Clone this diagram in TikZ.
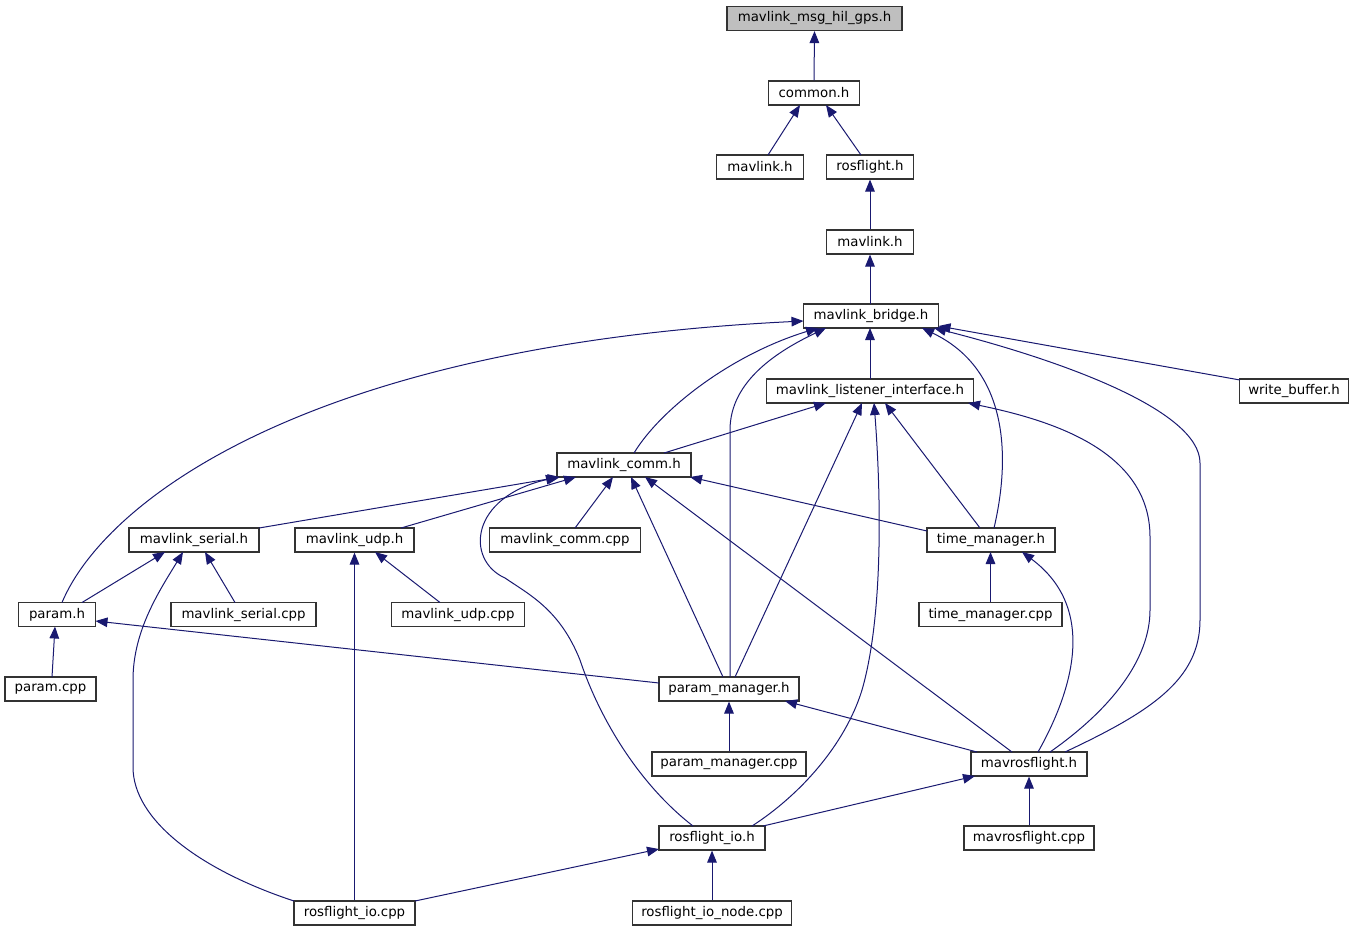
\documentclass[tikz,border=0pt]{standalone}
\usepackage{fontspec}
\setmainfont{DejaVu Sans}
\usetikzlibrary{arrows.meta}
\definecolor{edgeblue}{HTML}{191970}
\definecolor{boxline}{HTML}{333333}
\definecolor{rootfill}{HTML}{BFBFBF}
\tikzset{
  box/.style={draw=boxline, line width=0.9pt, fill=white, minimum height=18pt, inner sep=0pt,
    font=\fontsize{10pt}{12pt}\selectfont},
  bw/.style={minimum width=#1*0.75pt},
  edge/.style={draw=edgeblue, line width=0.75pt, -{Triangle[length=9pt,width=7.2pt]}}
}
\begin{document}
\begin{tikzpicture}[x=0.75pt,y=-0.75pt]
\useasboundingbox (0,0) rectangle (1355,933);
% nodes
\node[box,bw=175,fill=rootfill] (hil) at (814.5,18.5) {mavlink\_msg\_hil\_gps.h};
\node[box,bw=91] (common) at (814,93) {common.h};
\node[box,bw=87] (mavA) at (760,167) {mavlink.h};
\node[box,bw=87] (rosfl) at (870,167) {rosflight.h};
\node[box,bw=87] (mavB) at (870,242) {mavlink.h};
\node[box,bw=135] (bridge) at (871,316) {mavlink\_bridge.h};
\node[box,bw=207] (listener) at (870,391) {mavlink\_listener\_interface.h};
\node[box,bw=109] (wbuf) at (1294,391) {write\_buffer.h};
\node[box,bw=134] (comm) at (624,465) {mavlink\_comm.h};
\node[box,bw=130] (serial) at (194,540) {mavlink\_serial.h};
\node[box,bw=119] (udp) at (354.5,540) {mavlink\_udp.h};
\node[box,bw=151] (commcpp) at (565,540) {mavlink\_comm.cpp};
\node[box,bw=128] (time) at (991,540) {time\_manager.h};
\node[box,bw=77] (param) at (57,614.5) {param.h};
\node[box,bw=145] (serialcpp) at (243.5,614.5) {mavlink\_serial.cpp};
\node[box,bw=133] (udpcpp) at (458,614.5) {mavlink\_udp.cpp};
\node[box,bw=143] (timecpp) at (990.5,614.5) {time\_manager.cpp};
\node[box,bw=91] (paramcpp) at (50.5,689) {param.cpp};
\node[box,bw=140] (pm) at (729,689) {param\_manager.h};
\node[box,bw=154] (pmcpp) at (729,764) {param\_manager.cpp};
\node[box,bw=116] (mavros) at (1029,764) {mavrosflight.h};
\node[box,bw=106] (rio) at (712,838) {rosflight\_io.h};
\node[box,bw=130] (mavroscpp) at (1029,838) {mavrosflight.cpp};
\node[box,bw=121] (riocpp) at (354.5,913) {rosflight\_io.cpp};
\node[box,bw=159] (rionode) at (712,913) {rosflight\_io\_node.cpp};
% edges
\draw[edge] (common.north) -- (hil.south);
\draw[edge] ([shift={(8,-12)}]mavA.center) -- ([shift={(-14,12)}]common.center);
\draw[edge] ([shift={(-9,-12)}]rosfl.center) -- ([shift={(12,12)}]common.center);
\draw[edge] (mavB.north) -- (rosfl.south);
\draw[edge] ([shift={(0,-12)}]bridge.center -| mavB.south) -- (mavB.south);
\draw[edge] ([shift={(0,-12)}]listener.center) -- ([shift={(-1,12)}]bridge.center);
\draw[edge] ([shift={(-54,-11)}]wbuf.center) -- ([shift={(67.5,10)}]bridge.center);
\draw[edge] ([shift={(5,-12)}]param.center) .. controls (105,500) and (310,345) .. ([shift={(-67.5,5)}]bridge.center);
\draw[edge] ([shift={(10,-12)}]comm.center) .. controls (660,410) and (730,355) .. ([shift={(-53,12)}]bridge.center);
\draw[edge] ([shift={(1,-12)}]pm.center) -- (730,430) .. controls (730,380) and (780,350) .. ([shift={(-45,12)}]bridge.center);
\draw[edge] ([shift={(3,-12)}]time.center) .. controls (1010,460) and (1010,370) .. ([shift={(51,12)}]bridge.center);
\draw[edge] ([shift={(36,-12)}]mavros.center) .. controls (1150,712) and (1200,680) .. (1200,620) -- (1200,463) .. controls (1200,410) and (1060,360) .. ([shift={(63,12)}]bridge.center);
\draw[edge] ([shift={(40,-12)}]comm.center) -- ([shift={(-44,12)}]listener.center);
\draw[edge] ([shift={(6,-12)}]pm.center) -- ([shift={(-8,12)}]listener.center);
\draw[edge] ([shift={(40,-12)}]rio.center) .. controls (800,795) and (845,745) .. (862,690) .. controls (885,610) and (880,480) .. ([shift={(4,12)}]listener.center);
\draw[edge] ([shift={(-11,-12)}]time.center) -- ([shift={(15,12)}]listener.center);
\draw[edge] ([shift={(21,-12)}]mavros.center) .. controls (1110,710) and (1150,660) .. (1150,610) -- (1150,537) .. controls (1150,450) and (1050,420) .. ([shift={(98,12)}]listener.center);
\draw[edge] ([shift={(65,-12)}]serial.center) -- ([shift={(-64,12)}]comm.center);
\draw[edge] ([shift={(46.5,-12)}]udp.center) -- ([shift={(-48,12)}]comm.center);
\draw[edge] ([shift={(10,-12)}]commcpp.center) -- ([shift={(-11,12)}]comm.center);
\draw[edge] ([shift={(-6,-12)}]pm.center) -- ([shift={(7,12)}]comm.center);
\draw[edge] ([shift={(-64,-9)}]time.center) -- ([shift={(66,12)}]comm.center);
\draw[edge] ([shift={(-17,-12)}]mavros.center) -- ([shift={(21,12)}]comm.center);
\draw[edge] ([shift={(-19,-12)}]rio.center) .. controls (640,785) and (600,720) .. (580,660) .. controls (560,610) and (530,595) .. (505,578) .. controls (465,560) and (470,497) .. ([shift={(-66,12)}]comm.center);
\draw[edge] ([shift={(25,-12)}]param.center) -- ([shift={(-29,12)}]serial.center);
\draw[edge] ([shift={(-8.5,-12)}]serialcpp.center) -- ([shift={(11,12)}]serial.center);
\draw[edge] ([shift={(-60.5,-12)}]riocpp.center) .. controls (200,870) and (133,820) .. (133,767) -- (133,680) .. controls (133,630) and (160,590) .. ([shift={(-11,12)}]serial.center);
\draw[edge] ([shift={(-18,-12)}]udpcpp.center) -- ([shift={(20.5,12)}]udp.center);
\draw[edge] (riocpp.north) -- (udp.south);
\draw[edge] (timecpp.north) -- ([shift={(-0.5,12)}]time.center);
\draw[edge] ([shift={(9,-12)}]mavros.center) .. controls (1070,695) and (1100,610) .. ([shift={(31,12)}]time.center);
\draw[edge] ([shift={(1.5,-12)}]paramcpp.center) -- ([shift={(-2,12)}]param.center);
\draw[edge] ([shift={(-70,-6)}]pm.center) -- ([shift={(38.5,6.5)}]param.center);
\draw[edge] (pmcpp.north) -- (pm.south);
\draw[edge] ([shift={(-52,-12)}]mavros.center) -- ([shift={(56,12)}]pm.center);
\draw[edge] (mavroscpp.north) -- (mavros.south);
\draw[edge] ([shift={(51,-12)}]rio.center) -- ([shift={(-54,12)}]mavros.center);
\draw[edge] ([shift={(60.5,-12)}]riocpp.center) -- ([shift={(-53,11)}]rio.center);
\draw[edge] (rionode.north) -- (rio.south);
\end{tikzpicture}
\end{document}
